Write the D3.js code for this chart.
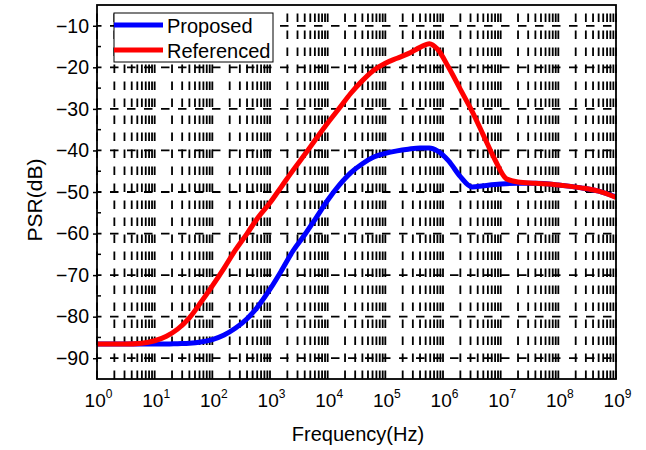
<!DOCTYPE html>
<html>
<head>
<meta charset="utf-8">
<script src="https://cdn.jsdelivr.net/npm/d3@7"></script>
<style>
body{margin:0;background:#fff;}
text{font-family:"Liberation Sans",Arial,sans-serif;fill:#000;}
</style>
</head>
<body>
<svg id="chart" width="646" height="450"></svg>
<script>
// frequency points (Hz)
var freq = [1, 3, 6, 10, 16, 25, 40, 63, 100, 160, 250, 400, 630,
  1e3, 1.6e3, 2.5e3, 4e3, 6.3e3, 1e4, 1.6e4, 2.5e4, 4e4, 6.3e4,
  1e5, 1.6e5, 2.5e5, 4e5, 5.8e5, 8e5, 1.25e6, 2e6, 3.2e6, 5e6, 8e6,
  1.25e7, 2e7, 4e7, 1e8, 2.5e8, 5e8, 1e9];

var proposed = [-86.6, -86.6, -86.6, -86.6, -86.6, -86.5, -86.4, -86.1, -85.5, -84.4, -82.8, -80.5, -77.4,
  -73.4, -68.8, -64.2, -60.3, -56.2, -52.0, -48.3, -45.4, -43.2, -41.6,
  -40.7, -40.1, -39.7, -39.4, -39.4, -40.1, -42.5, -46.3, -48.8, -48.5, -48.2,
  -48.0, -47.9, -47.9, -48.3, -49.0, -49.8, -51.2];

var referenced = [-86.6, -86.6, -86.4, -85.8, -84.7, -83.0, -80.3, -76.6, -72.6, -68.3, -64.0, -60.0, -56.0,
  -52.6, -48.6, -44.8, -41.0, -37.2, -33.4, -29.8, -26.3, -23.2, -20.7,
  -19.0, -17.8, -16.7, -15.2, -14.3, -15.6, -20.0, -25.3, -30.6, -36.3, -42.3,
  -46.8, -47.6, -47.9, -48.3, -49.0, -49.8, -51.3];

var seriesNames = ["Proposed", "Referenced"];
var seriesColors = ["#0000ff", "#ff0000"];
var yMajor = [-90, -80, -70, -60, -50, -40, -30, -20, -10];
var yMinor = [-85, -75, -65, -55, -45, -35, -25, -15];
var xMajor = [1, 1e1, 1e2, 1e3, 1e4, 1e5, 1e6, 1e7, 1e8, 1e9];

var plotLeft = 97, plotRight = 616, plotTop = 5, plotBottom = 379;

var svg = d3.select("#chart");

var x = d3.scaleLog().domain([1, 1e9]).range([plotLeft, plotRight]);
var y = d3.scaleLinear().domain([-95, -5]).range([plotBottom, plotTop]);

// dashed grid
var grid = svg.append("g").attr("class", "grid");
grid.selectAll("line.vgrid")
  .data(x.ticks())
  .enter().append("line")
  .attr("class", "vgrid")
  .attr("x1", function(d){return x(d);})
  .attr("x2", function(d){return x(d);})
  .attr("y1", plotTop)
  .attr("y2", plotBottom)
  .style("stroke", "#000")
  .style("stroke-width", 1.8)
  .style("stroke-dasharray", "8.5,8.5")
  .style("stroke-dashoffset", 8.5);

grid.selectAll("line.hgrid")
  .data(yMajor)
  .enter().append("line")
  .attr("class", "hgrid")
  .attr("x1", plotLeft)
  .attr("x2", plotRight)
  .attr("y1", function(d){return y(d);})
  .attr("y2", function(d){return y(d);})
  .style("stroke", "#000")
  .style("stroke-width", 1.8)
  .style("stroke-dasharray", "8.5,8.5")
  .style("stroke-dashoffset", 4);

// curves
svg.append("clipPath").attr("id", "clip")
  .append("rect").attr("x", plotLeft).attr("y", plotTop)
  .attr("width", plotRight - plotLeft).attr("height", plotBottom - plotTop);

var line = d3.line()
  .x(function(d){return x(d[0]);})
  .y(function(d){return y(d[1]);})
  .curve(d3.curveMonotoneX);

var series = [proposed, referenced];
svg.append("g").attr("clip-path", "url(#clip)")
  .selectAll("path")
  .data(series)
  .enter().append("path")
  .attr("d", function(s){return line(freq.map(function(f, i){return [f, s[i]];}));})
  .style("fill", "none")
  .style("stroke", function(d, i){return seriesColors[i];})
  .style("stroke-width", 5)
  .style("stroke-linejoin", "round");

// frame
svg.append("rect")
  .attr("x", plotLeft).attr("y", plotTop)
  .attr("width", plotRight - plotLeft).attr("height", plotBottom - plotTop)
  .style("fill", "none")
  .style("stroke", "#000")
  .style("stroke-width", 1.8);

// y axis
var yAxis = svg.append("g")
  .attr("transform", "translate(" + plotLeft + ",0)")
  .call(d3.axisLeft(y).tickValues(yMajor).tickSize(4).tickPadding(4));
yAxis.select(".domain").remove();
yAxis.selectAll(".tick line").style("stroke-width", 1.5);
yAxis.selectAll(".tick text")
  .attr("font-size", "19.5px")
  .style("font-family", "'Liberation Sans', Arial, sans-serif");

svg.append("g").selectAll("line")
  .data(yMinor)
  .enter().append("line")
  .attr("x1", plotLeft).attr("x2", plotLeft + 4)
  .attr("y1", function(d){return y(d);})
  .attr("y2", function(d){return y(d);})
  .style("stroke", "#000")
  .style("stroke-width", 1.5);

// x axis with 10^n labels
var xAxis = svg.append("g")
  .attr("transform", "translate(0," + plotBottom + ")")
  .call(d3.axisBottom(x).tickValues(xMajor).tickSize(0));
xAxis.select(".domain").remove();
xAxis.selectAll(".tick text")
  .attr("y", 28)
  .attr("dy", 0)
  .attr("x", 1)
  .style("font-family", "'Liberation Sans', Arial, sans-serif")
  .each(function(d){
    var t = d3.select(this);
    t.text(null);
    t.append("tspan").attr("font-size", "19px").text("10");
    t.append("tspan").attr("font-size", "12px").attr("dy", -9)
      .text(Math.round(Math.log10(d)));
  });

// axis titles
svg.append("text")
  .attr("x", 358).attr("y", 441)
  .attr("text-anchor", "middle")
  .attr("font-size", "20px")
  .text("Frequency(Hz)");

svg.append("text")
  .attr("transform", "translate(41.5,200) rotate(-90)")
  .attr("text-anchor", "middle")
  .attr("font-size", "21px")
  .text("PSR(dB)");

// legend
var legend = svg.append("g");
legend.append("rect")
  .attr("x", 114).attr("y", 13)
  .attr("width", 159).attr("height", 49)
  .style("fill", "#fff")
  .style("stroke", "#000")
  .style("stroke-width", 1);

var items = legend.selectAll("g.item")
  .data(seriesNames)
  .enter().append("g")
  .attr("class", "item")
  .attr("transform", function(d, i){return "translate(114," + (25 + i * 25) + ")";});
items.append("line")
  .attr("x1", 0).attr("x2", 49)
  .style("stroke", function(d, i){return seriesColors[i];})
  .style("stroke-width", 5);
items.append("text")
  .attr("x", 53).attr("y", 7.5)
  .attr("font-size", "20px")
  .text(function(d){return d;});
</script>
</body>
</html>
